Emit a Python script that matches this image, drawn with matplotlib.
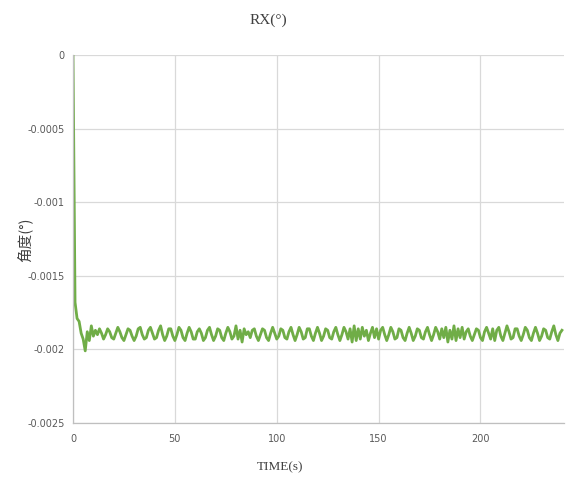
import numpy as np
import matplotlib
matplotlib.use("Agg")
import matplotlib.pyplot as plt

# Sampled RX angle (degrees) at 1 s intervals
time_s = list(range(0, 241))
rx_deg = [
    0.0, -0.00168, -0.00179, -0.00181, -0.00189, -0.00193, -0.00201, -0.00188, -0.00194, -0.00184,
    -0.00191, -0.00187, -0.00190, -0.00186, -0.00189, -0.00193, -0.00190, -0.00186, -0.00188, -0.00192,
    -0.00193, -0.00189, -0.00185, -0.00188, -0.00192, -0.00194, -0.00190, -0.00186, -0.00187, -0.00191,
    -0.00194, -0.00191, -0.00186, -0.00185, -0.00190, -0.00193, -0.00192, -0.00187, -0.00185, -0.00189,
    -0.00193, -0.00192, -0.00187, -0.00184, -0.00190, -0.00194, -0.00191, -0.00186, -0.00186, -0.00191,
    -0.00194, -0.00190, -0.00185, -0.00187, -0.00192, -0.00194, -0.00189, -0.00185, -0.00188, -0.00193,
    -0.00193, -0.00188, -0.00186, -0.00189, -0.00194, -0.00192, -0.00187, -0.00185, -0.00190, -0.00194,
    -0.00191, -0.00186, -0.00187, -0.00192, -0.00194, -0.00189, -0.00185, -0.00188, -0.00193, -0.00191,
    -0.00184, -0.00193, -0.00187, -0.00195, -0.00186, -0.00190, -0.00188, -0.00192, -0.00187, -0.00186,
    -0.00191, -0.00194, -0.00190, -0.00186, -0.00187, -0.00192, -0.00194, -0.00189, -0.00185, -0.00189,
    -0.00193, -0.00191, -0.00186, -0.00187, -0.00192, -0.00193, -0.00188, -0.00185, -0.00190, -0.00194,
    -0.00190, -0.00185, -0.00188, -0.00193, -0.00192, -0.00186, -0.00186, -0.00191, -0.00194, -0.00189,
    -0.00185, -0.00189, -0.00194, -0.00191, -0.00186, -0.00187, -0.00192, -0.00193, -0.00188, -0.00185,
    -0.00190, -0.00194, -0.00190, -0.00185, -0.00188, -0.00193, -0.00186, -0.00195, -0.00184, -0.00194,
    -0.00186, -0.00193, -0.00185, -0.00191, -0.00187, -0.00194, -0.00189, -0.00185, -0.00192, -0.00186,
    -0.00193, -0.00187, -0.00185, -0.00190, -0.00194, -0.00190, -0.00185, -0.00188, -0.00193, -0.00192,
    -0.00186, -0.00187, -0.00192, -0.00194, -0.00189, -0.00185, -0.00189, -0.00194, -0.00191, -0.00186,
    -0.00187, -0.00192, -0.00193, -0.00188, -0.00185, -0.00190, -0.00194, -0.00190, -0.00185, -0.00188,
    -0.00193, -0.00186, -0.00192, -0.00185, -0.00195, -0.00187, -0.00193, -0.00184, -0.00194, -0.00186,
    -0.00192, -0.00185, -0.00193, -0.00188, -0.00186, -0.00191, -0.00194, -0.00190, -0.00186, -0.00187,
    -0.00192, -0.00194, -0.00188, -0.00185, -0.00189, -0.00193, -0.00186, -0.00194, -0.00187, -0.00185,
    -0.00191, -0.00194, -0.00189, -0.00184, -0.00188, -0.00193, -0.00192, -0.00186, -0.00186, -0.00191,
    -0.00194, -0.00190, -0.00185, -0.00187, -0.00192, -0.00194, -0.00189, -0.00185, -0.00189, -0.00194,
    -0.00191, -0.00186, -0.00187, -0.00192, -0.00193, -0.00188, -0.00184, -0.00190, -0.00194, -0.00189,
    -0.00187,
]

x_ticks = [0, 50, 100, 150, 200]
y_ticks = [0, -0.0005, -0.001, -0.0015, -0.002, -0.0025]
y_tick_labels = ["0", "-0.0005", "-0.001", "-0.0015", "-0.002", "-0.0025"]

W, H = 568, 483
fig = plt.figure(figsize=(W / 100, H / 100), dpi=100)
fig.patch.set_facecolor("white")
ax = fig.add_axes([73 / W, 1 - 423 / H, (564 - 73) / W, (423 - 55) / H])

ax.plot(time_s, rx_deg, color="#70AD47", linewidth=2.0, solid_joinstyle="round")

ax.set_xlim(0, 241)
ax.set_ylim(-0.0025, 0)
ax.set_xticks(x_ticks)
ax.set_yticks(y_ticks)
ax.set_yticklabels(y_tick_labels)

ax.grid(True, color="#D9D9D9", linewidth=0.9)
ax.set_axisbelow(True)
for side in ["top", "right"]:
    ax.spines[side].set_visible(False)
for side in ["left", "bottom"]:
    ax.spines[side].set_color("#BFBFBF")
    ax.spines[side].set_linewidth(0.9)
ax.tick_params(axis="both", length=0, labelsize=7, labelcolor="#595959")
ax.tick_params(axis="y", pad=6)
ax.tick_params(axis="x", pad=8)

fig.text(268 / W, 1 - 20 / H, "RX(°)", ha="center", va="center",
         fontsize=11, family="Liberation Serif", color="#404040")
fig.text(280 / W, 1 - 467 / H, "TIME(s)", ha="center", va="center",
         fontsize=9.5, family="Liberation Serif", color="#404040")
fig.text(24 / W, 1 - 240 / H, "角度(°)", ha="center", va="center", rotation=90,
         fontsize=10.5, family=["Noto Sans CJK SC", "DejaVu Sans"], color="#404040")

fig.savefig("out.png", dpi=100, facecolor="white")
